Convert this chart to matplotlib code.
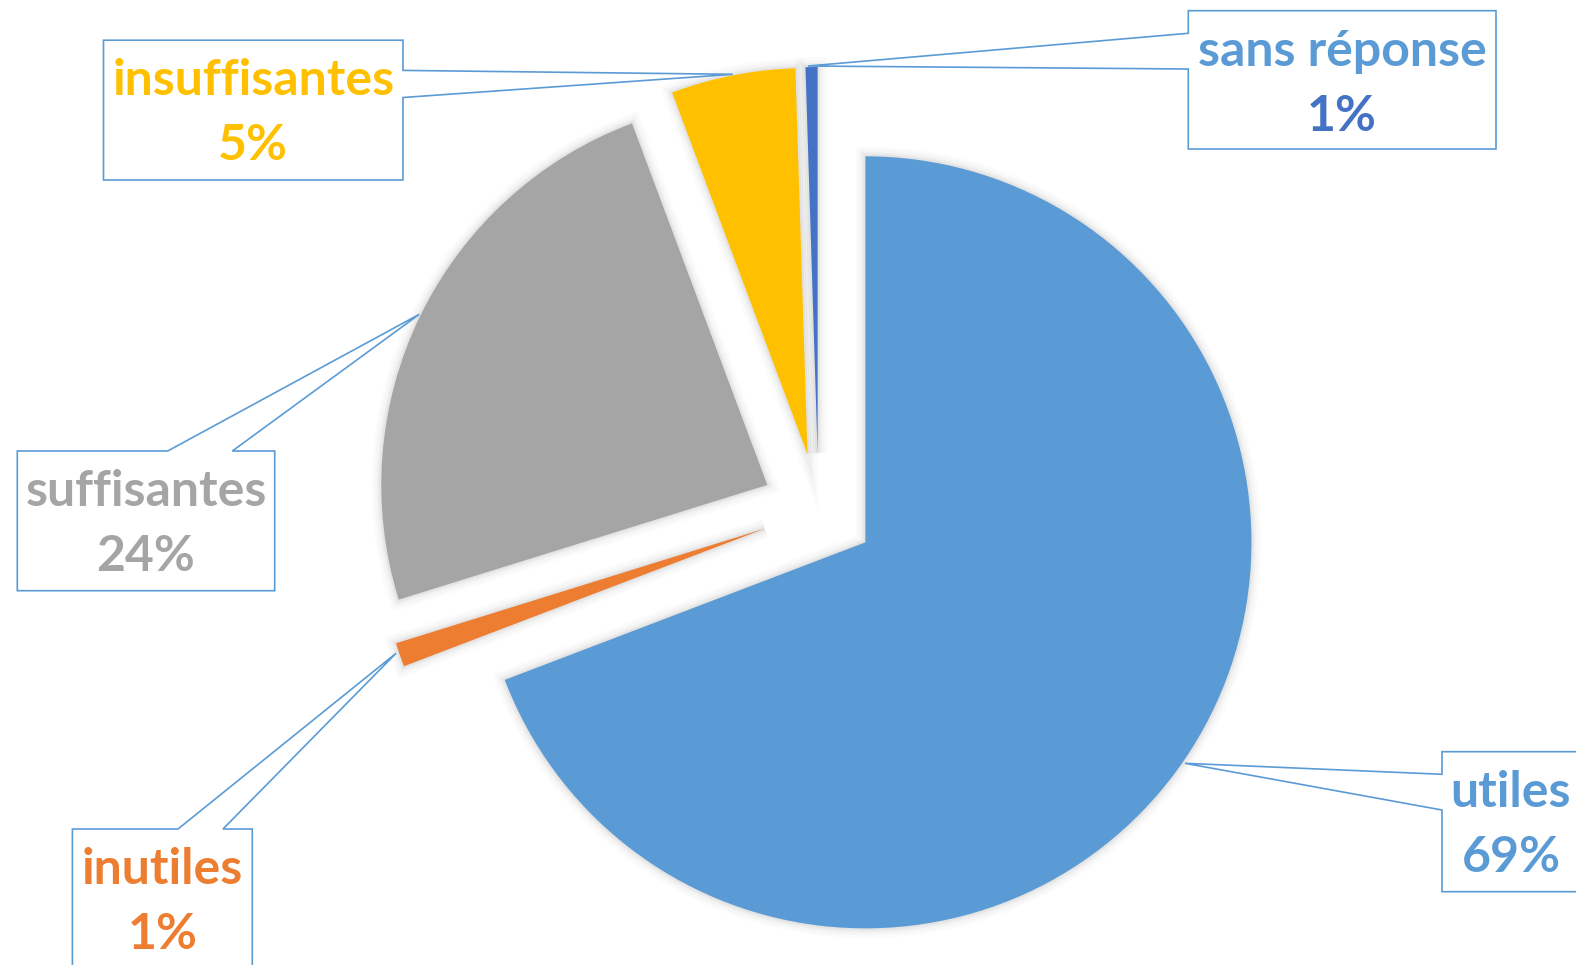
import matplotlib
matplotlib.use('Agg')
import matplotlib.pyplot as plt
import matplotlib.patheffects as pe
from matplotlib.patches import Polygon

# ---- data ----
categories = ['utiles', 'inutiles', 'suffisantes', 'insuffisantes', 'sans réponse']
values = [69.2, 1.0, 24.1, 5.2, 0.5]
pct_labels = ['69%', '1%', '24%', '5%', '1%']
colors = ['#5B9BD5', '#ED7D31', '#A5A5A5', '#FFC000', '#4472C4']
name_colors = ['#5B9BD5', '#ED7D31', '#A5A5A5', '#FFC000', '#5B9BD5']
pct_colors = ['#5B9BD5', '#ED7D31', '#A5A5A5', '#FFC000', '#4472C4']

# ---- layout (pixel coordinates, origin top-left) ----
W, H = 1576, 965
CX, CY, R = 818.5, 510, 386
EXPLODE_PX = 57
# box (x0, y0, x1, y1), side of pointer, pointer base (two coords along side), tip (x, y)
callouts = [
    ((1442, 751.7, 1580, 891.7), 'left', (774.3, 810), (1185, 763.3)),
    ((72.4, 829, 252.3, 969), 'top', (178, 223), (396, 653.3)),
    ((17.3, 451, 274.7, 590.7), 'top', (167.7, 232.3), (419.3, 314.3)),
    ((103.5, 40.2, 403, 180), 'right', (70.4, 97.5), (732.7, 74.3)),
    ((1188.3, 10.7, 1496, 149), 'left', (33.3, 69), (808, 66)),
]

FONT = ['Lato', 'DejaVu Sans']
FS = 36
EDGE = '#5B9BD5'

fig = plt.figure(figsize=(W / 100, H / 100), dpi=100)
ax = fig.add_axes([0, 0, 1, 1])

shadow = [pe.Stroke(linewidth=14, foreground='black', alpha=0.015),
          pe.Stroke(linewidth=10, foreground='black', alpha=0.02),
          pe.Stroke(linewidth=6, foreground='black', alpha=0.03),
          pe.Stroke(linewidth=3, foreground='black', alpha=0.04),
          pe.Normal()]

# explode in pie() is an absolute offset in data units
wedges, _ = ax.pie(values, colors=colors, startangle=90, counterclock=False,
                   explode=[EXPLODE_PX] * len(values),
                   center=(CX, H - CY), radius=R, frame=True,
                   wedgeprops=dict(linewidth=0))
for w in wedges:
    w.set_path_effects(shadow)


def Y(y):
    return H - y


for i, ((x0, y0, x1, y1), side, (b0, b1), (tx, ty)) in enumerate(callouts):
    pts = [(x0, y0)]
    if side == 'top':
        pts += [(b0, y0), (tx, ty), (b1, y0)]
    pts += [(x1, y0)]
    if side == 'right':
        pts += [(x1, b0), (tx, ty), (x1, b1)]
    pts += [(x1, y1), (x0, y1)]
    if side == 'left':
        pts += [(x0, b1), (tx, ty), (x0, b0)]
    poly = Polygon([(px, Y(py)) for px, py in pts], closed=True,
                   facecolor='white', edgecolor=EDGE, linewidth=1.2, zorder=5)
    ax.add_patch(poly)
    xc = (x0 + x1) / 2
    ax.text(xc, Y(y0 + 55), categories[i], ha='center', va='baseline',
            fontsize=FS, fontweight='bold', family=FONT, color=name_colors[i], zorder=6)
    ax.text(xc, Y(y0 + 120), pct_labels[i], ha='center', va='baseline',
            fontsize=FS, fontweight='bold', family=FONT, color=pct_colors[i], zorder=6)

ax.set_xlim(0, W)
ax.set_ylim(0, H)
ax.set_aspect('equal')
ax.axis('off')
fig.savefig('out.png', dpi=100, facecolor='white')
